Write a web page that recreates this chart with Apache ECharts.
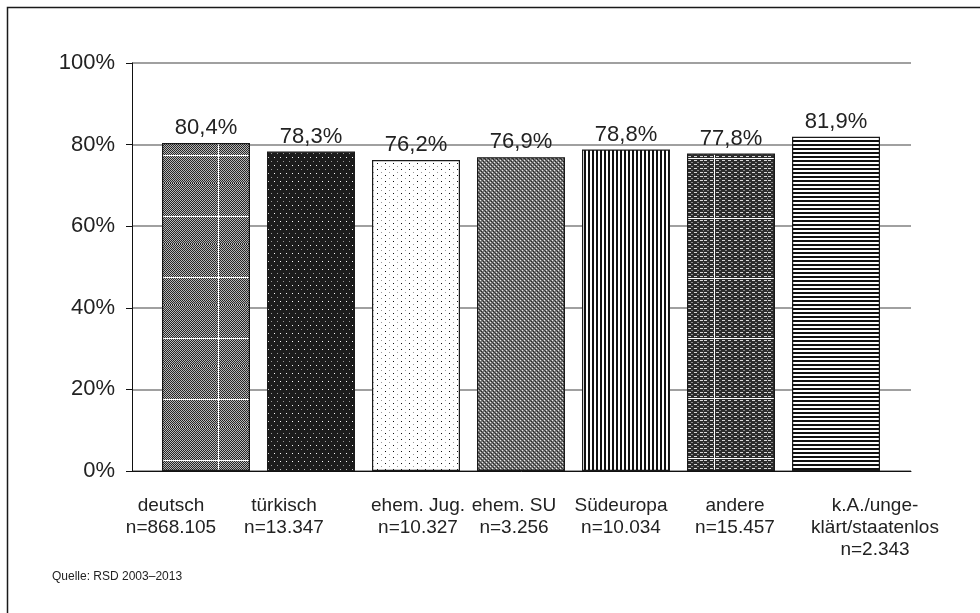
<!DOCTYPE html>
<html lang="de">
<head>
<meta charset="utf-8">
<script type="text/javascript" src="https://cdn.jsdelivr.net/npm/echarts@6/dist/echarts.min.js"></script>
<style>
  html, body { margin: 0; padding: 0; background: #fff; }
  #main { width: 980px; height: 613px; }
</style>
</head>
<body>
<div id="main"></div>
<script type="text/javascript">
// Daten
var groups = ['deutsch', 'türkisch', 'ehem. Jug.', 'ehem. SU', 'Südeuropa', 'andere', 'k.A./unge-\nklärt/staatenlos'];
var sampleSizes = ['868.105', '13.347', '10.327', '3.256', '10.034', '15.457', '2.343'];
var shares = [80.4, 78.3, 76.2, 76.9, 78.8, 77.8, 81.9];
var yMin = 0, yMax = 100, yStep = 20;
var sourceNote = 'Quelle: RSD 2003–2013';

// horizontal nudge of each category label (Excel places them unevenly)
var labelShift = [-35, -27, 2, -7, -5, 4, 39];

function makePattern(w, h, draw) {
    var c = document.createElement('canvas');
    c.width = w; c.height = h;
    var ctx = c.getContext('2d');
    draw(ctx, w, h);
    return { image: c, repeat: 'repeat' };
}
function px(ctx, x, y, col) { ctx.fillStyle = col; ctx.fillRect(x, y, 1, 1); }

// fine checker with a coarse white grid
function checkerGrid(vx, hy, dark, light) {
    return makePattern(64, 61, function (ctx, w, h) {
        for (var y = 0; y < h; y++) for (var x = 0; x < w; x++) {
            px(ctx, x, y, (x + y) % 2 ? light : dark);
        }
        ctx.fillStyle = '#fff';
        ctx.fillRect(vx, 0, 1, h);
        ctx.fillRect(0, hy, w, 1);
    });
}

var patterns = [
    checkerGrid(26, 33, '#262626', '#b8b8b8'),
    makePattern(6, 8, function (ctx, w, h) {
        ctx.fillStyle = '#1c1c1c'; ctx.fillRect(0, 0, w, h);
        px(ctx, 1, 1, '#9a9a9a'); px(ctx, 4, 5, '#ffffff');
    }),
    makePattern(8, 6, function (ctx, w, h) {
        ctx.fillStyle = '#fff'; ctx.fillRect(0, 0, w, h);
        px(ctx, 1, 1, '#111'); px(ctx, 5, 4, '#999');
    }),
    makePattern(4, 4, function (ctx, w, h) {
        ctx.fillStyle = '#777'; ctx.fillRect(0, 0, w, h);
        px(ctx, 0, 0, '#e8e8e8'); px(ctx, 2, 2, '#e8e8e8');
        px(ctx, 1, 3, '#262626'); px(ctx, 3, 1, '#262626');
        px(ctx, 0, 2, '#444'); px(ctx, 2, 0, '#444');
    }),
    makePattern(4, 1, function (ctx, w, h) {
        ctx.fillStyle = '#fff'; ctx.fillRect(0, 0, w, h);
        ctx.fillStyle = '#111'; ctx.fillRect(0, 0, 2, h);
    }),
    makePattern(64, 60, function (ctx, w, h) {
        ctx.fillStyle = '#2c2c2c'; ctx.fillRect(0, 0, w, h);
        for (var y = 0; y < h; y += 4) for (var x = 0; x < w; x += 6) {
            ctx.fillStyle = '#d8d8d8'; ctx.fillRect(x, y, 3, 1);
            ctx.fillStyle = '#8a8a8a'; ctx.fillRect(x + 3, y + 2, 2, 1);
        }
        ctx.fillStyle = '#fff';
        ctx.fillRect(10, 0, 1, h);
        ctx.fillRect(0, 38, w, 1);
    }),
    makePattern(1, 4, function (ctx, w, h) {
        ctx.fillStyle = '#fff'; ctx.fillRect(0, 0, w, h);
        ctx.fillStyle = '#111'; ctx.fillRect(0, 0, w, 2);
    })
];

var axisLabels = groups.map(function (g, i) {
    var s = labelShift[i];
    return {
        value: g + '\nn=' + sampleSizes[i],
        textStyle: { padding: s < 0 ? [0, -2 * s, 0, 0] : [0, 0, 0, 2 * s] }
    };
});

var barData = shares.map(function (v, i) {
    return { value: v, itemStyle: { color: patterns[i] } };
});

var myChart = echarts.init(document.getElementById('main'), null, { renderer: 'canvas' });

var font = 'Liberation Sans, Arial, sans-serif';

var option = {
    animation: false,
    backgroundColor: '#fff',
    textStyle: { fontFamily: font },
    grid: [
        { left: 132, right: 69, top: 63, bottom: 142 },
        { left: 153.5, right: 91.5, top: 63, bottom: 142 }
    ],
    xAxis: [
        {
            gridIndex: 0, type: 'value', min: 0, max: 1,
            axisLine: { show: true, lineStyle: { color: '#111', width: 1 } },
            axisTick: { show: false }, axisLabel: { show: false }, splitLine: { show: false }
        },
        {
            gridIndex: 1, type: 'category', data: axisLabels,
            axisLine: { show: false }, axisTick: { show: false },
            axisLabel: {
                interval: 0, margin: 24, fontSize: 19, lineHeight: 22,
                color: '#222', fontFamily: font
            }
        }
    ],
    yAxis: [
        {
            gridIndex: 0, type: 'value', min: yMin, max: yMax, interval: yStep,
            axisLine: { show: true, lineStyle: { color: '#111', width: 1 } },
            axisTick: { show: true, length: 6, lineStyle: { color: '#111' } },
            axisLabel: { formatter: '{value}%', fontSize: 22, margin: 17, color: '#222', fontFamily: font },
            splitLine: { show: true, lineStyle: { color: '#808080', width: 1.5 } }
        },
        {
            gridIndex: 1, type: 'value', min: yMin, max: yMax, show: false
        }
    ],
    series: [
        {
            type: 'bar', xAxisIndex: 1, yAxisIndex: 1,
            barWidth: 88,
            data: barData,
            itemStyle: { borderColor: '#1a1a1a', borderWidth: 1.2 },
            label: {
                show: true, position: 'top', distance: 4,
                fontSize: 22, color: '#222', fontFamily: font,
                formatter: function (p) { return p.value.toFixed(1).replace('.', ',') + '%'; }
            }
        }
    ],
    graphic: [
        {
            type: 'rect', z: -10, silent: true,
            shape: { x: 7.5, y: 7.5, width: 990, height: 640 },
            style: { fill: 'none', stroke: '#1a1a1a', lineWidth: 1.5 }
        },
        {
            type: 'text', left: 52, top: 571,
            style: { text: sourceNote, fontSize: 12, fill: '#222', fontFamily: font }
        }
    ]
};

myChart.setOption(option);
</script>
</body>
</html>
